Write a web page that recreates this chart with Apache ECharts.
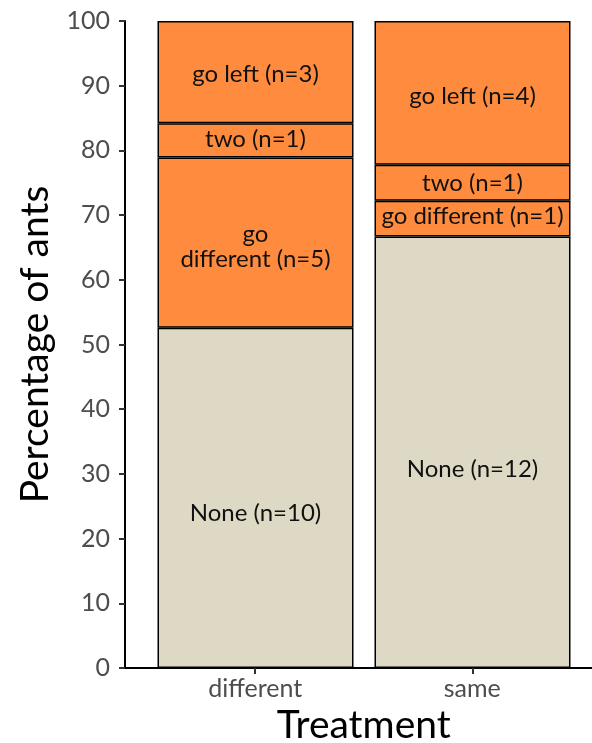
<!DOCTYPE html>
<html>
<head>
<meta charset="utf-8">
<script src="https://cdn.jsdelivr.net/npm/echarts@6/dist/echarts.min.js"></script>
<style>
html,body{margin:0;padding:0;background:#fff;}
#chart{width:592px;height:743px;}
</style>
</head>
<body>
<div id="chart"></div>
<script>
// Data (percent of ants per treatment)
const categories = ['different', 'same'];
const noneValues = [52.6, 66.7];
const goDifferentValues = [26.3, 5.5];
const twoValues = [5.3, 5.6];
const goLeftValues = [15.8, 22.2];
const noneLabels = ['None (n=10)', 'None (n=12)'];
const goDifferentLabels = ['go\ndifferent (n=5)', 'go different (n=1)'];
const twoLabels = ['two (n=1)', 'two (n=1)'];
const goLeftLabels = ['go left (n=3)', 'go left (n=4)'];
const yTicks = [0, 10, 20, 30, 40, 50, 60, 70, 80, 90, 100];

const FONT = 'Lato, "Open Sans", sans-serif';
const ORANGE = '#FF8C3E';
const BEIGE = '#DDD9C4';

function mkSeries(name, values, labels, color, offsets) {
  return {
    name: name,
    type: 'bar',
    stack: 'total',
    xAxisIndex: 0,
    yAxisIndex: 0,
    barWidth: 196,
    data: values.map((v, i) => ({
      value: v,
      label: { formatter: labels[i], offset: offsets ? offsets[i] : [0, 0] }
    })),
    itemStyle: { color: color, borderColor: '#000', borderWidth: 1.5 },
    label: {
      show: true,
      position: 'inside',
      color: '#111',
      fontFamily: FONT,
      fontSize: 24,
      lineHeight: 25
    },
    emphasis: { disabled: true }
  };
}

const chart = echarts.init(document.getElementById('chart'), null, { renderer: 'canvas' });
chart.setOption({
  animation: false,
  backgroundColor: '#fff',
  grid: [
    { left: 147, right: 11, top: 21, bottom: 75, containLabel: false, outerBoundsMode: 'none' },
    { left: 125, right: -10.5, top: 21, bottom: 75, containLabel: false, outerBoundsMode: 'none' }
  ],
  xAxis: [
    {
      type: 'category',
      gridIndex: 0,
      data: categories,
      boundaryGap: true,
      axisLine: { show: false },
      axisTick: { show: false },
      axisLabel: { show: false }
    },
    {
      type: 'value',
      gridIndex: 1,
      min: 0.4,
      max: 2.6,
      name: 'Treatment',
      nameLocation: 'middle',
      nameGap: 36,
      nameTextStyle: { fontFamily: FONT, fontSize: 39, color: '#000' },
      axisLine: { show: true, onZero: false, lineStyle: { color: '#000', width: 2 } },
      axisTick: { show: true, customValues: [1, 2], length: 6, lineStyle: { color: '#333', width: 2 } },
      axisLabel: {
        show: true,
        customValues: [1, 2],
        formatter: v => categories[Math.round(v) - 1] || '',
        fontFamily: FONT, fontSize: 25, color: '#4d4d4d', margin: 8
      },
      splitLine: { show: false }
    }
  ],
  yAxis: [
    {
      type: 'value',
      gridIndex: 0,
      min: 0,
      max: 100,
      interval: 10,
      offset: 22,
      name: 'Percentage of ants',
      nameLocation: 'middle',
      nameGap: 70,
      nameRotate: 90,
      nameTextStyle: { fontFamily: FONT, fontSize: 39, color: '#000' },
      axisLine: { show: true, lineStyle: { color: '#000', width: 2 } },
      axisTick: { show: true, length: 6, lineStyle: { color: '#333', width: 2 } },
      axisLabel: {
        fontFamily: FONT, fontSize: 25, color: '#4d4d4d', margin: 15,
        customValues: yTicks
      },
      splitLine: { show: false }
    },
    {
      type: 'value',
      gridIndex: 1,
      min: 0,
      max: 100,
      show: false
    }
  ],
  series: [
    mkSeries('None', noneValues, noneLabels, BEIGE, [[0, 15], [0, 17]]),
    mkSeries('go different', goDifferentValues, goDifferentLabels, ORANGE, [[0, 4], [0, -2]]),
    mkSeries('two', twoValues, twoLabels, ORANGE, [[0, -1], [0, 1]]),
    mkSeries('go left', goLeftValues, goLeftLabels, ORANGE, [[0, 2], [0, 3]])
  ]
});
</script>
</body>
</html>
